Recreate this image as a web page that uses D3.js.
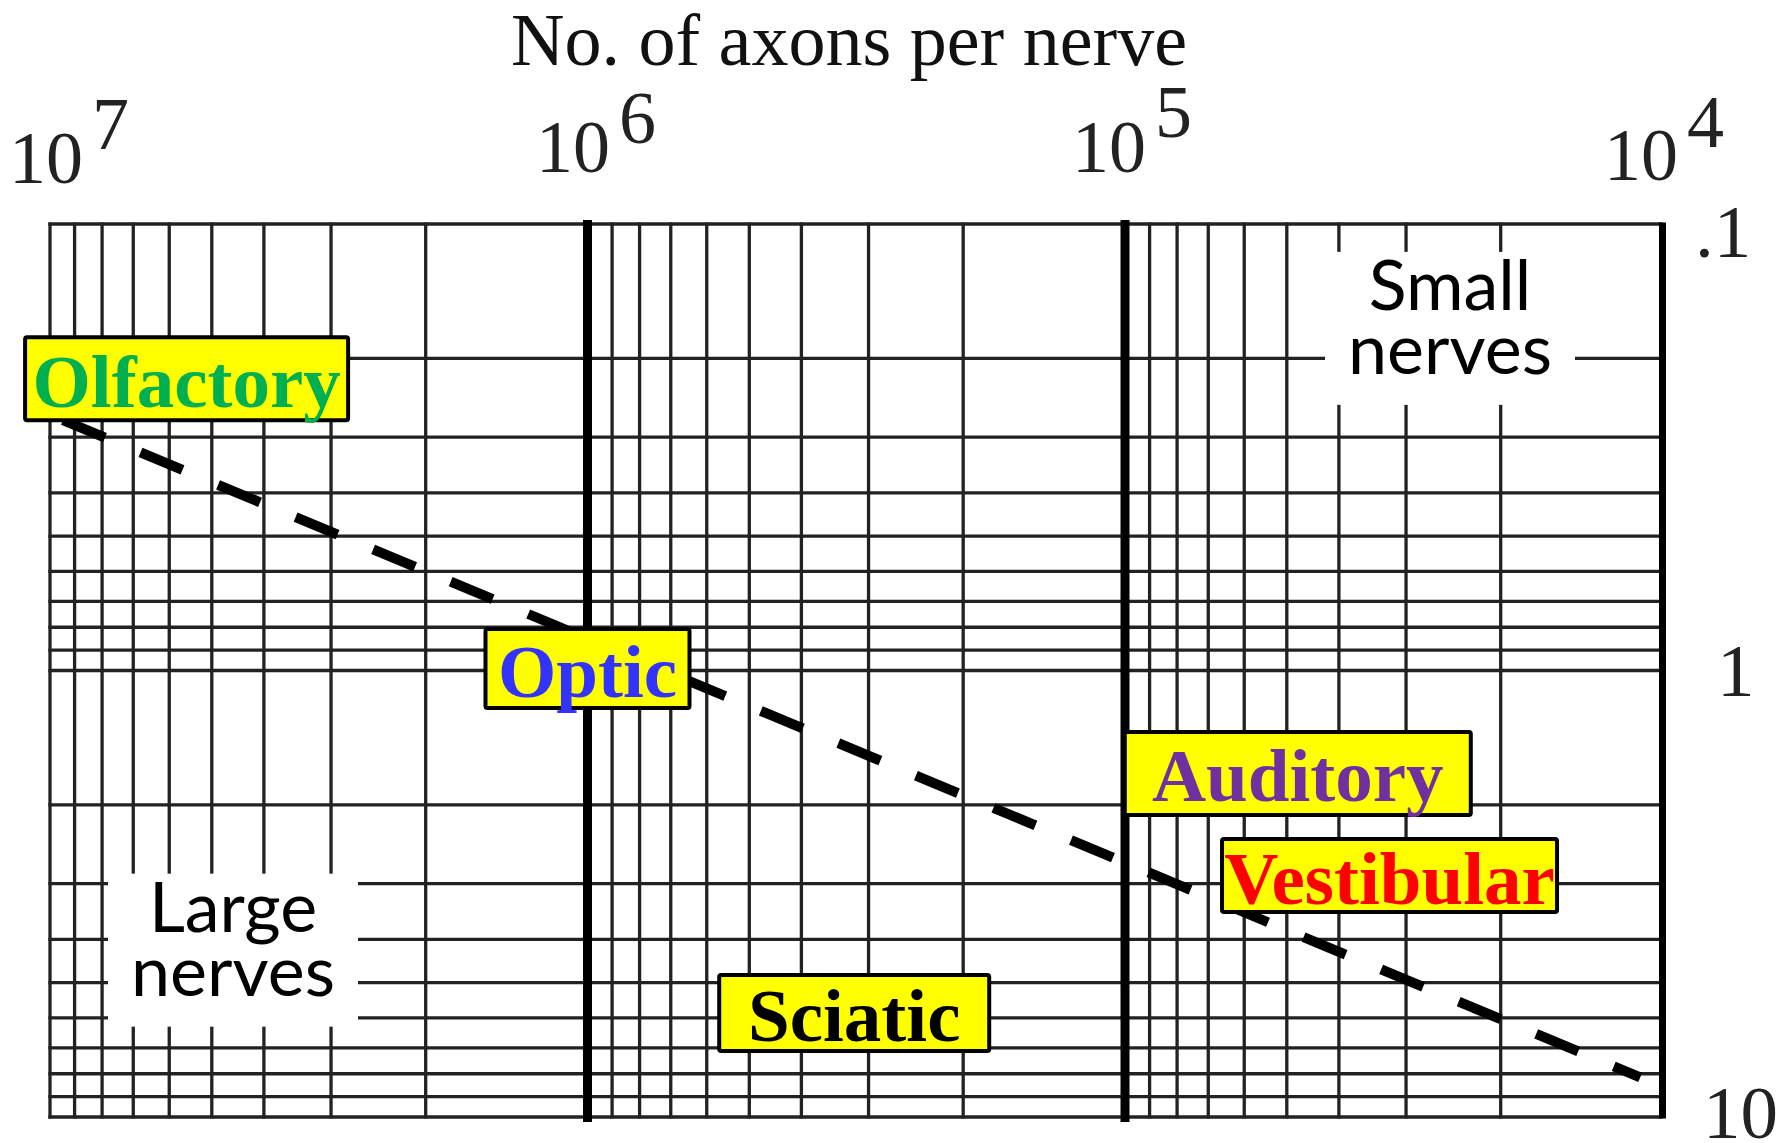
<!DOCTYPE html>
<html>
<head>
<meta charset="utf-8">
<script src="https://cdn.jsdelivr.net/npm/d3@7"></script>
<style>
  html, body { margin: 0; padding: 0; background: #fff; }
  svg { display: block; }
</style>
</head>
<body>
<svg id="chart" width="1783" height="1143"></svg>
<script>
// Axons per nerve (reversed log x) against axon diameter (log y)
const xDomain = [1e7, 1e4];
const yDomain = [0.1, 10];
const xTickExponents = [7, 6, 5, 4];
const yTickValues = [0.1, 1, 10];
const yTickLabels = [".1", "1", "10"];
const titleText = "No. of axons per nerve";

// Labelled nerves: position of each label in data space
const nerveNames = ["Olfactory", "Optic", "Auditory", "Vestibular", "Sciatic"];
const nerveAxons = [5.57e6, 1.0e6, 4.77e4, 3.22e4, 3.19e5];
const nerveDiameters = [0.222, 0.99, 1.70, 2.88, 5.85];

// Dashed trend line end points
const trendAxons = [9.46e6, 1.10e4];
const trendDiameters = [0.275, 8.15];

// Region captions
const regionLines = [["Small", "nerves"], ["Large", "nerves"]];
const regionAxons = [2.485e4, 4.566e6];
const regionDiameters = [0.1713, 4.23];

// ---- styling / layout ----
const W = 1783, H = 1143;
const plot = { left: 50, right: 1662.5, top: 224, bottom: 1117 };
const gridColor = "#222";
const gridWidth = 3.3;
const serif = "'Liberation Serif', 'Times New Roman', serif";
const sans = "Lato, 'Open Sans', sans-serif";

const nerveColors = {
  Olfactory: "#00B050",
  Optic: "#3333FF",
  Auditory: "#7030A0",
  Vestibular: "#FF0000",
  Sciatic: "#000000"
};
const boxSize = {
  Olfactory: [323, 83],
  Optic: [204, 79],
  Auditory: [346, 83],
  Vestibular: [335, 73],
  Sciatic: [270, 76]
};
const xTickLayout = [
  { dx: -41, base: 183, supBase: 149 },
  { dx: -51.5, base: 172, supBase: 143 },
  { dx: -53, base: 172, supBase: 137 },
  { dx: -58.5, base: 180, supBase: 147 }
];
const yTickLayout = [
  { dx: 32.5, dy: 33 },
  { dx: 54.5, dy: 25 },
  { dx: 40.5, dy: 21 }
];
const regionBox = [250, 153];

const svg = d3.select("#chart");
svg.append("rect").attr("width", W).attr("height", H).attr("fill", "#fff");

const x = d3.scaleLog().domain(xDomain).range([plot.left, plot.right]);
const y = d3.scaleLog().domain(yDomain).range([plot.top, plot.bottom]);

const isPow10 = v => Math.abs(Math.log10(v) - Math.round(Math.log10(v))) < 1e-9;
const isHeavy = v => isPow10(v) && v !== xDomain[0] && v !== xDomain[1];

// Horizontal grid lines
const grid = svg.append("g").attr("class", "grid");
grid.selectAll("line.h")
  .data(y.ticks())
  .join("line")
  .attr("class", "h")
  .attr("x1", plot.left - gridWidth / 2)
  .attr("x2", plot.right)
  .attr("y1", d => y(d))
  .attr("y2", d => y(d))
  .attr("stroke", gridColor)
  .attr("stroke-width", gridWidth);

// Vertical grid lines; interior decades are heavy, right edge is a heavy frame
grid.selectAll("line.v")
  .data(x.ticks())
  .join("line")
  .attr("class", "v")
  .attr("x1", d => x(d))
  .attr("x2", d => x(d))
  .attr("y1", d => isHeavy(d) ? plot.top - 4 : plot.top - 1.6)
  .attr("y2", d => isHeavy(d) ? plot.bottom + 5 : plot.bottom + 1.6)
  .attr("stroke", d => (isHeavy(d) || d === xDomain[1]) ? "#000" : gridColor)
  .attr("stroke-width", d => {
    if (d === xDomain[1]) return 7;
    if (isHeavy(d)) return 9;
    return gridWidth;
  });

// White panels behind the region captions
const regions = svg.append("g").attr("class", "regions");
regionLines.forEach((lines, i) => {
  const cx = x(regionAxons[i]);
  const cy = y(regionDiameters[i]);
  regions.append("rect")
    .attr("x", cx - regionBox[0] / 2)
    .attr("y", cy - regionBox[1] / 2)
    .attr("width", regionBox[0])
    .attr("height", regionBox[1])
    .attr("fill", "#fff");
  lines.forEach((s, k) => {
    regions.append("text")
      .attr("x", cx)
      .attr("y", cy - 18.5 + k * 64)
      .attr("text-anchor", "middle")
      .attr("font-family", sans)
      .attr("font-size", 70)
      .attr("fill", "#000")
      .text(s);
  });
});

// Dashed trend line
const trend = trendAxons.map((a, i) => [a, trendDiameters[i]]);
svg.append("path")
  .datum(trend)
  .attr("d", d3.line().x(d => x(d[0])).y(d => y(d[1])))
  .attr("fill", "none")
  .attr("stroke", "#000")
  .attr("stroke-width", 10)
  .attr("stroke-dasharray", "45.5 38.5");

// Nerve labels
const labels = svg.append("g").attr("class", "labels");
nerveNames.forEach((name, i) => {
  const cx = x(nerveAxons[i]);
  const cy = y(nerveDiameters[i]);
  const [bw, bh] = boxSize[name];
  labels.append("rect")
    .attr("x", cx - bw / 2)
    .attr("y", cy - bh / 2)
    .attr("width", bw)
    .attr("height", bh)
    .attr("rx", 2)
    .attr("fill", "#FFFF00")
    .attr("stroke", "#000")
    .attr("stroke-width", 4);
  labels.append("text")
    .attr("x", cx)
    .attr("y", cy + 28)
    .attr("text-anchor", "middle")
    .attr("font-family", serif)
    .attr("font-weight", "bold")
    .attr("font-size", 75)
    .attr("fill", nerveColors[name])
    .text(name);
});

// Title
svg.append("text")
  .attr("x", 849)
  .attr("y", 65)
  .attr("text-anchor", "middle")
  .attr("font-family", serif)
  .attr("font-size", 74)
  .attr("fill", "#111")
  .text(titleText);

// Top tick labels: powers of ten
const xt = svg.append("g").attr("class", "x-ticks");
xTickExponents.forEach((e, i) => {
  const L = xTickLayout[i];
  const t = xt.append("text")
    .attr("x", x(Math.pow(10, e)) + L.dx)
    .attr("y", L.base)
    .attr("font-family", serif)
    .attr("font-size", 74)
    .attr("fill", "#222");
  t.append("tspan").text("10");
  t.append("tspan").attr("dx", 9).attr("y", L.supBase).text(String(e));
});

// Right tick labels
const yt = svg.append("g").attr("class", "y-ticks");
yTickValues.forEach((v, i) => {
  const L = yTickLayout[i];
  yt.append("text")
    .attr("x", plot.right + L.dx)
    .attr("y", y(v) + L.dy)
    .attr("font-family", serif)
    .attr("font-size", 75)
    .attr("fill", "#222")
    .text(yTickLabels[i]);
});
</script>
</body>
</html>
